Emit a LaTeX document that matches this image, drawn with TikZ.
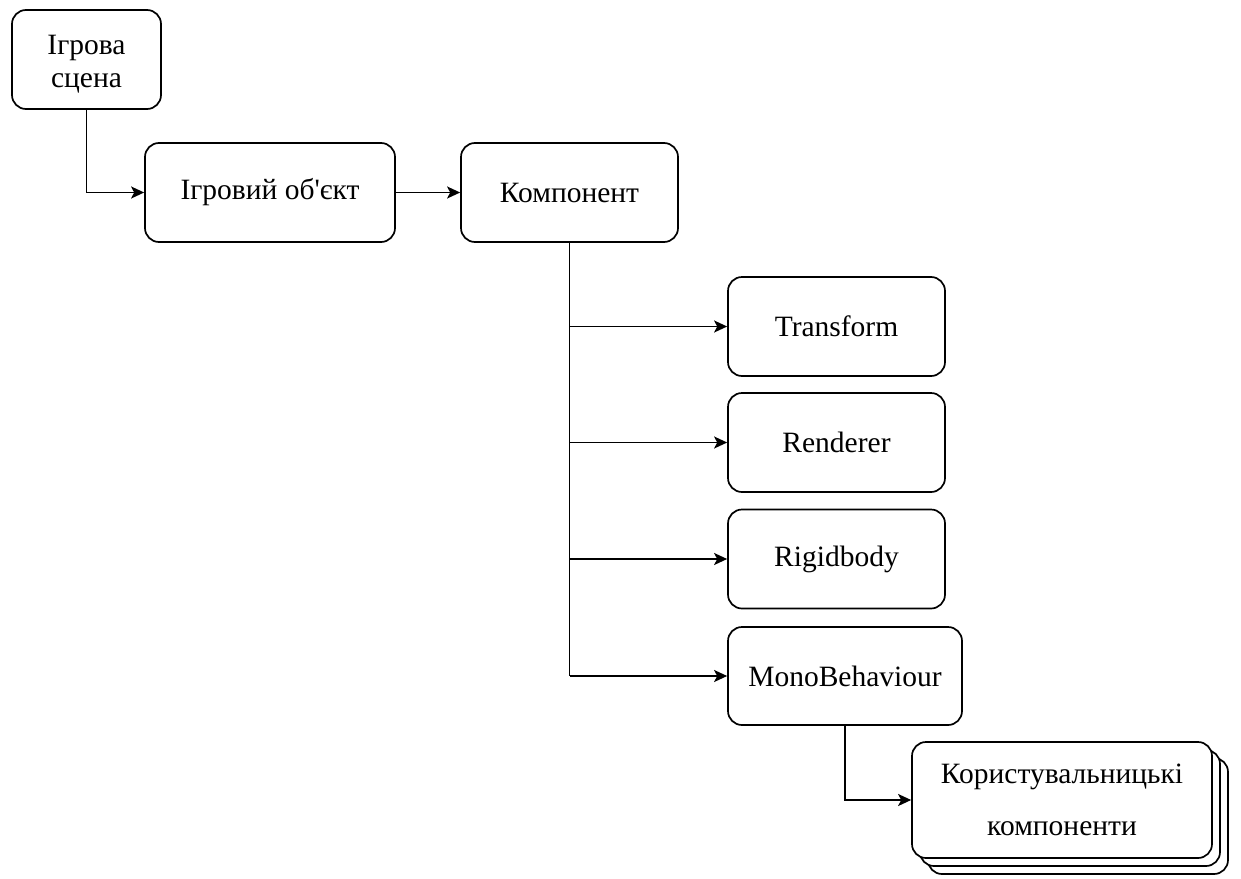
\documentclass[tikz,border=0pt]{standalone}
\usepackage{fontspec}
\setmainfont{Liberation Serif}[Ligatures=TeXOff]
\usetikzlibrary{arrows.meta}
\begin{document}
\begin{tikzpicture}[x=1pt,y=-1pt,
  box/.style={draw, line width=1.7pt, rounded corners=14pt, fill=white,
    inner sep=0pt, align=center, font=\fontsize{29.5}{33}\selectfont},
  txt/.style={inner sep=0pt, align=center, font=\fontsize{29.5}{33}\selectfont},
  arr/.style={line width=1.7pt, -{Stealth[length=13pt,width=12pt,inset=3pt]}},
  link/.style={line width=1.7pt}]
\useasboundingbox (0,0) rectangle (1241,878);

% top row
\node[box, minimum width=149pt, minimum height=99pt] (scene) at (86.5,59.5) {};
\node[txt] (scenetxt) at ([yshift=-5pt]scene.center) {Ігрова\\сцена};
\node[box, minimum width=250pt, minimum height=99pt] (obj) at (270,192.5) {Ігровий об'єкт};
\node[box, minimum width=217pt, minimum height=99pt] (comp) at (569.5,192.5) {Компонент};

% built-in components
\node[box, minimum width=217pt, minimum height=99pt] (tr) at (836.5,326.5) {Transform};
\node[box, minimum width=217pt, minimum height=99pt] (ren) at (836.5,442.5) {Renderer};
\node[box, minimum width=217pt, minimum height=99pt] (rig) at (836.5,559) {Rigidbody};
\node[box, minimum width=234pt, minimum height=98pt] (mono) at (845,676) {MonoBehaviour};

% stacked user components
\node[box, minimum width=300pt, minimum height=116pt] (userb) at (1078,816) {};
\node[box, minimum width=300pt, minimum height=116pt] (userm) at (1070,808) {};
\node[box, minimum width=300pt, minimum height=116pt,
  font=\fontsize{29.5}{52}\selectfont] (user) at (1062,800) {Користувальницькі\\компоненти};

% connectors
\draw[arr] (scene.south) |- (obj.west);
\draw[arr] (obj.east) -- (comp.west);
\draw[link] (comp.south) -- (comp.south |- mono.west);
\draw[arr] (comp.south |- tr.west) -- (tr.west);
\draw[arr] (comp.south |- ren.west) -- (ren.west);
\draw[arr] (comp.south |- rig.west) -- (rig.west);
\draw[arr] (comp.south |- mono.west) -- (mono.west);
\draw[arr] (mono.south) |- (user.west);
\end{tikzpicture}
\end{document}
